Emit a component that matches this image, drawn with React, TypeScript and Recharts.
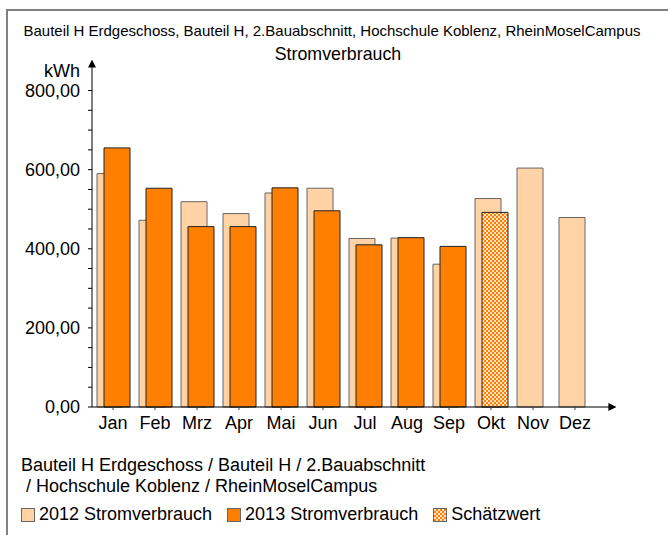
import { BarChart, Bar, Cell, XAxis, YAxis } from "recharts";

// Monatswerte Stromverbrauch (kWh)
const months = ["Jan", "Feb", "Mrz", "Apr", "Mai", "Jun", "Jul", "Aug", "Sep", "Okt", "Nov", "Dez"];
const verbrauch2012 = [590, 472, 519, 489, 541, 553, 426, 427, 361, 527, 604, 479];
const verbrauch2013 = [655, 553, 456, 456, 554, 496, 410, 428, 406, 492, null, null];
const schaetzwert2013 = [false, false, false, false, false, false, false, false, false, true, false, false];
const yTicks = [0, 50, 100, 150, 200, 250, 300, 350, 400, 450, 500, 550, 600, 650, 700, 750, 800];

const COLOR_2012 = "#FFD3A5";
const COLOR_2013 = "#FF8000";
const FONT = '"Liberation Sans", Arial, sans-serif';

const data = months.map((m, i) => ({
  month: m,
  v2012: verbrauch2012[i],
  v2013: verbrauch2013[i],
}));

const fmt = (v: number) => (v % 200 === 0 ? v.toFixed(2).replace(".", ",") : "");

const legendItems = [
  { label: "2012 Stromverbrauch", fill: COLOR_2012 },
  { label: "2013 Stromverbrauch", fill: COLOR_2013 },
  { label: "Schätzwert", fill: "pattern" },
];

const checker =
  "repeating-conic-gradient(#FF8000 0% 25%, #FFE2C4 0% 50%) 0 0 / 4px 4px";

export default function App() {
  return (
    <div
      style={{
        position: "absolute",
        left: 0,
        top: 0,
        width: 668,
        height: 535,
        overflow: "hidden",
        background: "#fff",
        fontFamily: FONT,
        color: "#000",
      }}
    >
      <div
        style={{
          position: "absolute",
          left: 6,
          top: 9,
          width: 720,
          height: 620,
          border: "2px solid #808080",
        }}
      />
      <div style={{ position: "absolute", left: 0, width: 664, top: 22, textAlign: "center", fontSize: 15, lineHeight: "18px" }}>
        Bauteil H Erdgeschoss, Bauteil H, 2.Bauabschnitt, Hochschule Koblenz, RheinMoselCampus
      </div>
      <div style={{ position: "absolute", left: 0, width: 676, top: 44, textAlign: "center", fontSize: 17.8, lineHeight: "21px" }}>
        Stromverbrauch
      </div>
      <div style={{ position: "absolute", left: 0, width: 80, top: 61, textAlign: "right", fontSize: 18, lineHeight: "21px" }}>
        kWh
      </div>

      <BarChart
        width={668}
        height={535}
        data={data}
        margin={{ top: 66, right: 58, left: 12, bottom: 98 }}
        barSize={26}
        barGap={-19}
        style={{ position: "absolute", left: 0, top: 0 }}
      >
        <defs>
          <marker id="arrow" viewBox="0 0 10 10" refX="2" refY="5" markerWidth="8" markerHeight="8" markerUnits="userSpaceOnUse" orient="auto-start-reverse">
            <path d="M0,0 L10,5 L0,10 z" fill="#000" />
          </marker>
          <pattern id="schaetz" width="4" height="4" patternUnits="userSpaceOnUse">
            <rect width="4" height="4" fill="#FFE2C4" />
            <rect width="2" height="2" fill={COLOR_2013} />
            <rect x="2" y="2" width="2" height="2" fill={COLOR_2013} />
          </pattern>
        </defs>
        <XAxis
          dataKey="month"
          height={30}
          padding={{ left: 0, right: 14 }}
          axisLine={{ stroke: "#000", strokeWidth: 1, markerEnd: "url(#arrow)" }}
          tickLine={{ stroke: "#444" }}
          tickSize={3}
          tickMargin={6}
          tick={{ fill: "#000", fontSize: 18, fontFamily: FONT }}
          interval={0}
        />
        <YAxis
          width={80}
          domain={[0, 862]}
          ticks={yTicks}
          tickFormatter={fmt}
          interval={0}
          axisLine={{ stroke: "#000", strokeWidth: 1, markerStart: "url(#arrow)" }}
          tickLine={{ stroke: "#000" }}
          tickSize={4}
          tickMargin={8}
          tick={{ fill: "#000", fontSize: 18, fontFamily: FONT }}
        />
        <Bar dataKey="v2012" fill={COLOR_2012} stroke="#666" strokeWidth={1} isAnimationActive={false} />
        <Bar dataKey="v2013" fill={COLOR_2013} stroke="#222" strokeWidth={1} isAnimationActive={false}>
          {data.map((d, i) => (
            <Cell key={d.month} fill={schaetzwert2013[i] ? "url(#schaetz)" : COLOR_2013} />
          ))}
        </Bar>
      </BarChart>

      <div style={{ position: "absolute", left: 21, top: 455, fontSize: 18, lineHeight: "21px", whiteSpace: "pre" }}>
        {"Bauteil H Erdgeschoss / Bauteil H / 2.Bauabschnitt\n / Hochschule Koblenz / RheinMoselCampus"}
      </div>
      <div style={{ position: "absolute", left: 21, top: 504, display: "flex", alignItems: "center", fontSize: 18, lineHeight: "21px" }}>
        {legendItems.map((it) => (
          <div key={it.label} style={{ display: "flex", alignItems: "center", marginRight: 15 }}>
            <span
              style={{
                display: "inline-block",
                width: 14,
                height: 14,
                boxSizing: "border-box",
                border: "1px solid #666",
                background: it.fill === "pattern" ? checker : it.fill,
                marginRight: 4,
              }}
            />
            <span>{it.label}</span>
          </div>
        ))}
      </div>
    </div>
  );
}
